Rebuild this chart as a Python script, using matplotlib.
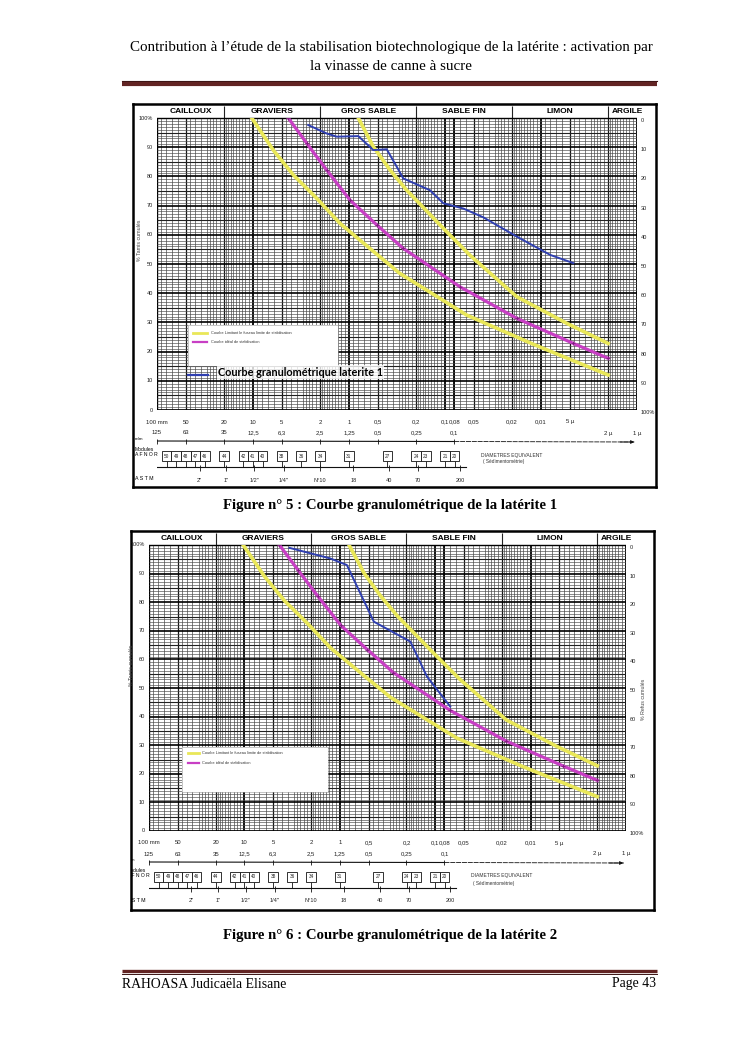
import numpy as np
import matplotlib
matplotlib.use("Agg")
import matplotlib.pyplot as plt
from matplotlib.patches import Rectangle

W, H = 745, 1053
SERIF = ["Liberation Serif", "DejaVu Serif"]
NARROW = ["Liberation Sans Narrow", "Liberation Sans", "DejaVu Sans"]
plt.rcParams["font.family"] = ["Liberation Sans", "DejaVu Sans"]

# reference curves (same template on both sheets): diameter in mm, % passing
COARSE_D = [10.3, 6.15, 3.8, 2.17, 1.24, 0.61, 0.296, 0.0594, 0.012, 0.002]
COARSE_P = [100, 89.0, 80.5, 72.5, 63.9, 55.4, 46.8, 32.5, 22.5, 12.0]
IDEAL_D = [4.29, 2.75, 1.71, 0.977, 0.514, 0.274, 0.07, 0.0179, 0.0046, 0.002]
IDEAL_P = [100, 91.3, 82.2, 71.9, 63.4, 55.4, 42.2, 31.4, 22.8, 17.7]
FINE_D = [0.80, 0.558, 0.374, 0.251, 0.104, 0.055, 0.0179, 0.0054, 0.002]
FINE_P = [100, 90.2, 82.2, 75.3, 62.2, 53.0, 38.8, 29.7, 22.8]

# measured curves
LAT1_D = [2.66, 1.71, 1.34, 0.8, 0.558, 0.405, 0.318, 0.272, 0.144, 0.104,
          0.0645, 0.04, 0.0179, 0.008, 0.0046]
LAT1_P = [97.6, 94.7, 93.6, 93.8, 89.0, 89.3, 83.3, 79.3, 75.3, 70.8,
          69.0, 66.0, 59.4, 53.1, 50.3]
LAT2_D = [3.37, 1.26, 0.843, 0.44, 0.182, 0.122, 0.0695]
LAT2_P = [99.0, 95.3, 93.0, 73.2, 66.2, 54.0, 43.5]

CLASSES = ["CAILLOUX", "GRAVIERS", "GROS SABLE", "SABLE FIN", "LIMON", "ARGILE"]
CLASS_LIMITS = [20, 2, 0.2, 0.02, 0.002]

MM_TICKS = [100, 50, 20, 10, 5, 2, 1, 0.5, 0.2, 0.1, 0.08, 0.05, 0.02, 0.01, 0.005]
MM_LABELS = ["100 mm", "50", "20", "10", "5", "2", "1", "0,5", "0,2", "0,1",
             "0,08", "0,05", "0,02", "0,01", "5 µ"]
SIEVE_TICKS = [100, 50, 20, 10, 5, 2, 1, 0.5, 0.2, 0.08, 0.002, 0.001]
SIEVE_LABELS = ["125", "63", "35", "12,5", "6,3", "2,5", "1,25", "0,5", "0,25",
                "0,1", "2 µ", "1 µ"]
MODULES = [50, 49, 48, 47, 46, 44, 42, 41, 40, 38, 36, 34, 31, 27, 24, 23, 21, 20]
ASTM_TICKS = [36, 19, 9.7, 4.8, 2.0, 0.9, 0.38, 0.19, 0.07]
ASTM_LABELS = ['2"', '1"', '1/2"', '1/4"', "N°10", "18", "40", "70", "200"]

PASS_TICKS = [100, 90, 80, 70, 60, 50, 40, 30, 20, 10, 0]
PASS_LABELS = ["100%", "90", "80", "70", "60", "50", "40", "30", "20", "10", "0"]
REFUS_LABELS = ["0", "10", "20", "30", "40", "50", "60", "70", "80", "90", "100%"]

YELLOW = "#e9e758"
PINK = "#c83fc4"
BLUE = "#2f3fb0"
RULE = "#622423"
GRID_MANT = [1, 1.1, 1.2, 1.3, 1.4, 1.5, 1.6, 1.7, 1.8, 1.9, 2, 2.2, 2.4, 2.6, 2.8,
             3, 3.5, 4, 4.5, 5, 6, 7, 8, 9]

fig = plt.figure(figsize=(W / 100, H / 100), dpi=100)


def px_rect(x0, y0, x1, y1):
    return [x0 / W, 1 - y1 / H, (x1 - x0) / W, (y1 - y0) / H]


page = fig.add_axes([0, 0, 1, 1])
page.set_xlim(0, W)
page.set_ylim(H, 0)
page.axis("off")

# page header / captions / footer
page.text(391, 47, "Contribution à l’étude de la stabilisation biotechnologique de la latérite : activation par",
          family=SERIF, fontsize=10.8, ha="center", va="center")
page.text(391, 67, "la vinasse de canne à sucre", family=SERIF, fontsize=10.8, ha="center", va="center")
page.plot([122, 657], [80.5, 80.5], color="#3b1414", lw=0.8)
page.plot([122, 657], [84, 84], color=RULE, lw=3.0, solid_capstyle="butt")
page.text(390, 505, "Figure n° 5 : Courbe granulométrique de la latérite 1", family=SERIF,
          fontsize=10.6, weight="bold", ha="center", va="center")
page.text(390, 935, "Figure n° 6 : Courbe granulométrique de la latérite 2", family=SERIF,
          fontsize=10.6, weight="bold", ha="center", va="center")
page.plot([122, 657], [970.5, 970.5], color=RULE, lw=2.4, solid_capstyle="butt")
page.plot([122, 657], [973.8, 973.8], color="#3b1414", lw=0.7)
page.text(122, 984, "RAHOASA Judicaëla Elisane", family=SERIF, fontsize=9.9, ha="left", va="center")
page.text(656, 984, "Page 43", family=SERIF, fontsize=9.9, ha="right", va="center")


def draw_sheet(frame, grid, blue_d, blue_p, legend, refus_label):
    fx0, fy0, fx1, fy1 = frame
    gx0, gx1, g100, g0 = grid

    # scanned sheet frame, page-pixel coordinates
    fax = fig.add_axes(px_rect(fx0, fy0, fx1, fy1))
    fax.set_xlim(fx0, fx1)
    fax.set_ylim(fy1, fy0)
    fax.set_xticks([])
    fax.set_yticks([])
    for s in fax.spines.values():
        s.set_linewidth(1.8)
    fax.text(gx0 - 22, g0 + 29, "m/m", fontsize=3.2, clip_on=True, va="center")
    fax.text(gx0 - 22, g0 + 42, "Modules\nA F N O R", fontsize=3.6, clip_on=True,
             va="center", linespacing=1.1)
    fax.text(gx0 - 22, g0 + 69, "A S T M", fontsize=3.8, clip_on=True, va="center")

    # class header band
    hax = fig.add_axes(px_rect(gx0, fy0 + 2, gx1, g100))
    hax.set_xscale("log")
    hax.set_xlim(100, 0.001)
    hax.set_ylim(0, 1)
    hax.axis("off")
    hax.vlines(CLASS_LIMITS, 0, 1, color="#222", lw=0.8)
    hax.axhline(0, color="k", lw=1.0)
    edges = [100] + CLASS_LIMITS + [0.0008]
    for i, name in enumerate(CLASSES):
        xc = np.sqrt(edges[i] * edges[i + 1])
        hax.text(xc, 0.55, name, family=NARROW, fontstretch="condensed", weight="bold",
                 fontsize=6.0, ha="center", va="center")

    # grid sheet
    ax = fig.add_axes(px_rect(gx0, g100, gx1, g0))
    ax.set_xscale("log")
    ax.set_xlim(100, 0.001)
    ax.set_ylim(0, 100)
    ax.axis("off")
    light, mid, heavy = [], [], [100]
    for e in range(-3, 2):
        for m in GRID_MANT:
            x = m * 10.0 ** e
            if m == 1:
                heavy.append(x)
            elif m in (2, 5):
                mid.append(x)
            else:
                light.append(x)
    heavy.append(0.08)
    ax.vlines(light, 0, 100, color="#3a3a3a", lw=0.45)
    ax.vlines(mid, 0, 100, color="#151515", lw=0.9)
    ax.vlines(heavy, 0, 100, color="#000", lw=1.3)
    ax.hlines([p for p in range(101) if p % 5], 100, 0.001, color="#4a4a4a", lw=0.45)
    ax.hlines([p for p in range(5, 100, 10)], 100, 0.001, color="#222", lw=0.8)
    ax.hlines(list(range(0, 101, 10)), 100, 0.001, color="#000", lw=1.2)
    ax.add_patch(Rectangle((0, 0), 1, 1, transform=ax.transAxes, fill=False, lw=1.0, color="k"))

    ax.plot(COARSE_D, COARSE_P, color=YELLOW, lw=2.6, zorder=5)
    ax.plot(FINE_D, FINE_P, color=YELLOW, lw=2.6, zorder=5)
    ax.plot(IDEAL_D, IDEAL_P, color=PINK, lw=2.3, zorder=6, marker="+", ms=3,
            mec="#7a1f7a", mew=0.6)
    ax.plot(blue_d, blue_p, color=BLUE, lw=1.4, zorder=7)

    ytr = ax.get_yaxis_transform()
    for p, lab in zip(PASS_TICKS, PASS_LABELS):
        ax.text(-0.008, p, lab, transform=ytr, fontsize=4.0, ha="right", va="center",
                color="#222")
    for p, lab in zip(PASS_TICKS, REFUS_LABELS):
        ax.text(1.008, p, lab, transform=ytr, fontsize=4.0, ha="left", va="top",
                color="#222")
    ax.text(-0.036, 58, "% Tamis cumulés", transform=ytr, fontsize=3.8, rotation=90,
            ha="center", va="center", color="#444")
    if refus_label:
        ax.text(1.036, 46, "% Refus cumulés", transform=ytr, fontsize=3.8, rotation=90,
                ha="center", va="center", color="#444")

    # scales below the sheet (y in pixels under the 0 % line)
    depth = fy1 - 2 - g0
    axb = fig.add_axes(px_rect(gx0, g0, gx1, fy1 - 2))
    axb.set_xscale("log")
    axb.set_xlim(100, 0.001)
    axb.set_ylim(depth, 0)
    axb.axis("off")
    for x, lab in zip(MM_TICKS, MM_LABELS):
        axb.text(x, 12, lab, fontsize=4.3, ha="center", va="center", color="#222")
    for x, lab in zip(SIEVE_TICKS, SIEVE_LABELS):
        axb.text(x, 23, lab, fontsize=4.3, ha="center", va="center", color="#222")
    axb.plot([100, 0.08], [31, 31.5], color="#111", lw=0.8)
    axb.plot([0.08, 0.00105], [31.5, 32], color="#111", lw=0.6, ls=(0, (6, 1)))
    axb.annotate("", xy=(0.001, 32), xytext=(0.0016, 32),
                 arrowprops=dict(arrowstyle="-|>", lw=0.6, color="#111",
                                 mutation_scale=5), annotation_clip=False)
    axb.vlines(SIEVE_TICKS[:10], 29, 34, color="#111", lw=0.6)
    module_d = [10 ** ((m - 1) / 10) / 1000 for m in MODULES]
    axb.vlines(module_d, 51, 57, color="#111", lw=0.6)
    axb.plot([100, 0.06], [57, 57], color="#111", lw=0.8)
    axb.vlines(ASTM_TICKS, 55, 61, color="#111", lw=0.6)
    for x, m in zip(module_d, MODULES):
        axb.text(x, 46, str(m), fontsize=3.4, ha="center", va="center", color="#222",
                 bbox=dict(boxstyle="square,pad=0.45", fc="white", ec="#111", lw=0.6))
    for x, lab in zip(ASTM_TICKS, ASTM_LABELS):
        axb.text(x, 70, lab, fontsize=4.0, ha="center", va="center", color="#222")
    axb.text(0.042, 45, "DIAMETRES EQUIVALENT", fontsize=3.6, ha="left", va="center", color="#333")
    axb.text(0.04, 52, "( Sédimentométrie)", fontsize=3.4, ha="left", va="center", color="#333")

    # hand-made legend box
    bx0, by0, bx1, by1 = legend["box"]
    lax = fig.add_axes(px_rect(bx0, by0, bx1, by1))
    lax.set_xlim(bx0, bx1)
    lax.set_ylim(by1, by0)
    lax.set_xticks([])
    lax.set_yticks([])
    lax.set_facecolor("white")
    for s in lax.spines.values():
        s.set_linewidth(0.4)
        s.set_color("#999")
    sx0, sx1, tx, yy, yp = legend["rows"]
    lax.plot([sx0, sx1], [yy, yy], color=YELLOW, lw=2.0)
    lax.plot([sx0, sx1], [yp, yp], color=PINK, lw=1.6)
    lax.text(tx, yy, "Courbe Limitant le fuseau limite de stabilisation", fontsize=2.8,
             va="center", color="#333")
    lax.text(tx, yp, "Courbe idéal de stabilisation", fontsize=2.8, va="center", color="#333")
    if "blue" in legend:
        bsx0, bsx1, btx, by = legend["blue"]
        lax.plot([bsx0, bsx1], [by + 3, by + 3], color=BLUE, lw=1.6, clip_on=False)
        lax.text(btx, by, "Courbe granulométrique laterite 1", family=["Lato", "DejaVu Sans"],
                 weight="bold", fontsize=7.8, va="center", clip_on=False,
                 bbox=dict(boxstyle="square,pad=0.1", fc="white", ec="none", alpha=0.8))


draw_sheet((133, 104, 656, 487), (157, 637, 118, 410), LAT1_D, LAT1_P,
           {"box": (188, 325, 338, 366), "rows": (193, 207, 211, 333, 342),
            "blue": (188, 208, 218, 372)}, False)
draw_sheet((131, 531, 654, 910), (149, 626, 545, 831), LAT2_D, LAT2_P,
           {"box": (182, 747, 328, 792), "rows": (188, 199, 202, 753, 763)}, True)

fig.savefig("out.png", dpi=100)
